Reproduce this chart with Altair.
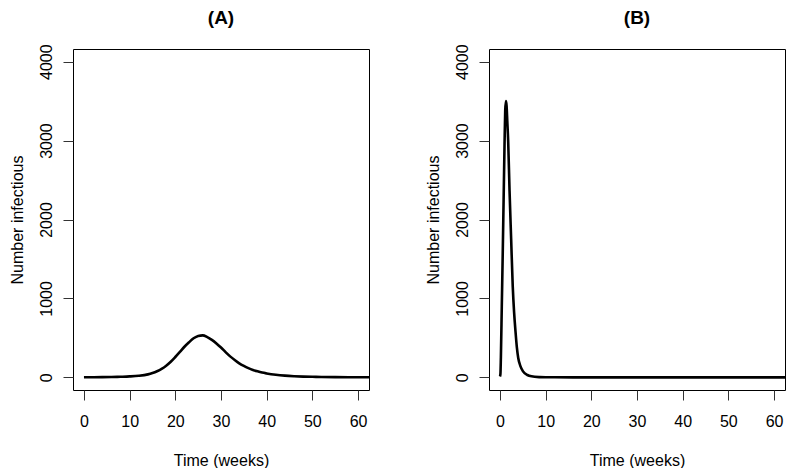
import altair as alt
import pandas as pd

# ---- data ----
a_weeks = [0, 2, 4, 6, 8, 10, 12, 14, 15, 16, 17, 18, 19, 20, 21, 22, 23, 24, 25, 26,
           27, 28, 29, 30, 31, 32, 33, 34, 35, 36, 37, 38, 39, 40, 42, 44, 46, 48, 50,
           52, 55, 58, 62.4]
a_infectious = [1, 2, 3, 5, 8, 12, 20, 38, 55, 78, 108, 148, 198, 258, 322, 388, 445, 495,
                525, 532, 510, 475, 430, 378, 320, 266, 220, 178, 145, 117, 94, 76, 61, 50,
                33, 22, 15, 10, 7, 5, 3, 2, 1]

b_weeks = [0, 0.1, 0.2, 0.4, 0.6, 0.8, 1.0, 1.15, 1.3, 1.45, 1.6, 1.8, 2.1, 2.45, 2.8,
           3.1, 3.4, 3.7, 4.0, 4.5, 5.05, 6.0, 6.9, 8.7, 10, 12, 20, 40, 62.4]
b_infectious = [10, 40, 250, 900, 1550, 2250, 2950, 3380, 3500, 3440, 3250, 2990, 2360,
                1750, 1150, 820, 583, 380, 245, 140, 76, 30, 13, 3, 1, 1, 0, 0, 0]

x_ticks = [0, 10, 20, 30, 40, 50, 60]
y_ticks = [0, 1000, 2000, 3000, 4000]
panel_titles = ["(A)", "(B)"]
x_title = "Time (weeks)"
y_title = "Number infectious"

FONT = "Liberation Sans"


def panel(weeks, values, title):
    df = pd.DataFrame({"week": weeks, "infectious": values})
    return (
        alt.Chart(df)
        .mark_line(color="black", strokeWidth=2.6, interpolate="monotone", clip=True)
        .encode(
            x=alt.X("week:Q",
                    scale=alt.Scale(domain=[-2.4, 62.4], nice=False, zero=False),
                    axis=alt.Axis(values=x_ticks, title=x_title, format="d")),
            y=alt.Y("infectious:Q",
                    scale=alt.Scale(domain=[-160, 4160], nice=False, zero=False),
                    axis=alt.Axis(values=y_ticks, title=y_title, format="d")),
        )
        .properties(width=296, height=341,
                    title=alt.TitleParams(title, anchor="middle", frame="group",
                                          font=FONT, fontSize=19, fontWeight="bold",
                                          color="black", offset=16))
    )


pa = panel(a_weeks, a_infectious, panel_titles[0])
pb = panel(b_weeks, b_infectious, panel_titles[1])

chart = (
    alt.hconcat(pa, pb, spacing=120, bounds="flush")
    .properties(padding={"left": 0, "top": 0, "right": 0, "bottom": 0}, background="white")
    .configure_view(stroke="black", strokeWidth=1)
    .configure_axis(domain=False, grid=False, tickColor="#333333", tickSize=10, tickWidth=1,
                    labelFont=FONT, labelFontSize=16, labelColor="black",
                    titleFont=FONT, titleFontSize=16, titleFontWeight="normal",
                    titleColor="black")
    .configure_axisX(labelPadding=13, titlePadding=23)
    .configure_axisY(labelAngle=270, labelAlign="center", labelBaseline="alphabetic",
                     labelPadding=12, titlePadding=13)
)

chart.save("out.html", embed_options={"renderer": "svg", "actions": False})
